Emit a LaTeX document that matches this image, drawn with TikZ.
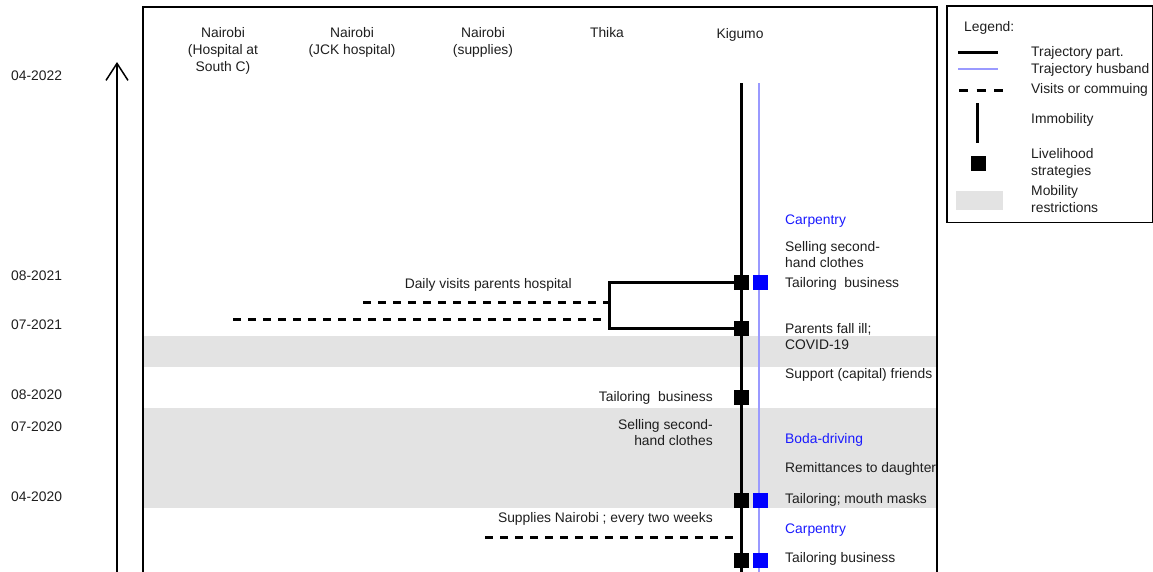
\documentclass[tikz,border=0pt]{standalone}
\usepackage{fontspec}
\setmainfont{Liberation Sans}
\usetikzlibrary{arrows.meta}
\definecolor{ink}{HTML}{1E1E1E}
\definecolor{bandgrey}{HTML}{E3E3E3}
\definecolor{husband}{HTML}{9A9AFF}
\definecolor{sqblue}{HTML}{0000FF}
\definecolor{txtblue}{HTML}{1A1AFF}

\begin{document}
\begin{tikzpicture}[x=1pt,y=-1pt,
  txt/.style={font=\fontsize{13.85}{16}\selectfont, text=ink, inner sep=0pt},
  lbase/.style={txt, anchor=base west},
  rbase/.style={txt, anchor=base east},
  bluetxt/.style={lbase, text=txtblue},
  multil/.style={txt, anchor=north west, align=left},
  multir/.style={txt, anchor=north east, align=right},
  legmulti/.style={multil, font=\fontsize{13.85}{17}\selectfont},
  head/.style={txt, anchor=north, align=center, font=\fontsize{13.85}{17}\selectfont},
  traj/.style={line width=3pt, black},
  husb/.style={line width=1.2pt, husband},
  visit/.style={line width=3pt, black, dash pattern=on 8pt off 7pt},
  strat/.style={fill=black, draw=none, minimum size=15pt, inner sep=0pt},
  bstrat/.style={strat, fill=sqblue},
  band/.style={fill=bandgrey, draw=none},
]
\useasboundingbox (0,0) rectangle (1153,571);
\clip (0,0) rectangle (1153,571);

% periods with mobility restrictions
\fill[band] (143,336) rectangle (937,367);
\fill[band] (143,408) rectangle (937,508);

% time axis
\coordinate (axbot) at (117,600);
\coordinate (axtop) at (117,62);
\draw[line width=1.5pt, -{Straight Barb[length=17pt,width=22pt,line width=1.5pt]}] (axbot) -- (axtop);

% dates
\node[lbase] (d1) at (11,80)  {04-2022};
\node[lbase] (d2) at (11,280) {08-2021};
\node[lbase] (d3) at (11,329) {07-2021};
\node[lbase] (d4) at (11,399) {08-2020};
\node[lbase] (d5) at (11,431) {07-2020};
\node[lbase] (d6) at (11,501) {04-2020};

% places
\node[head] (p1) at (223,27) {Nairobi\\(Hospital at\\South C)};
\node[head] (p2) at (352,27) {Nairobi\\(JCK hospital)};
\node[head] (p3) at (483,27) {Nairobi\\(supplies)};
\node[head] (p4) at (607,27) {Thika};
\node[head] (p5) at (740,28) {Kigumo};

% trajectories
\coordinate (ktop) at (741,83);
\coordinate (kbot) at (741,600);
\coordinate (htop) at (759,83);
\coordinate (hbot) at (759,600);
\draw[husb] (htop) -- (hbot);
\draw[traj] (ktop) -- (kbot);

% hospital visits
\coordinate (bkt1) at (609,282);
\coordinate (bkt2) at (609,328);
\coordinate (jck) at (363,302);
\coordinate (jckj) at (609,302);
\coordinate (southc) at (233,319);
\coordinate (southcj) at (609,319);
\draw[visit] (jck) -- (jckj);
\draw[visit] (southc) -- (southcj);

% supplies from Nairobi
\coordinate (sup) at (485,537);
\coordinate (supj) at (741,537);
\draw[visit] (sup) -- (supj);

% livelihood strategies
\node[strat] (s0821) at (741,282) {};
\node[strat] (s0721) at (741,328) {};
\node[strat] (s0820) at (741,397) {};
\node[strat] (s0420) at (741,500) {};
\node[strat] (s0120) at (741,560) {};
\node[bstrat] (h0821) at (760,282) {};
\node[bstrat] (h0420) at (760,500) {};
\node[bstrat] (h0120) at (760,560) {};
\draw[traj, line join=miter] (s0821.center) -- (bkt1) -- (bkt2) -- (s0721.center);

% labels right of the trajectories
\node[bluetxt] (r1) at (785,224) {Carpentry};
\node[multil] (r2) at (785,241) {Selling second-\\hand clothes};
\node[lbase] (r3) at (785,287) {Tailoring\ \ business};
\node[multil] (r4) at (785,323) {Parents fall ill;\\COVID-19};
\node[lbase] (r5) at (785,378) {Support (capital) friends};
\node[bluetxt] (r6) at (785,443) {Boda-driving};
\begin{scope}
  \clip (143,0) rectangle (936,571);
  \node[lbase] (r7) at (785,472) {Remittances to daughter};
\end{scope}
\node[lbase] (r8) at (785,503) {Tailoring; mouth masks};
\node[bluetxt] (r9) at (785,533) {Carpentry};
\node[lbase] (r10) at (785,562) {Tailoring business};

% labels left of the trajectory
\node[rbase] (l1) at (572,288) {Daily visits parents hospital};
\node[rbase] (l2) at (713,401) {Tailoring\ \ business};
\node[multir] (l3) at (713,419) {Selling second-\\hand clothes};
\node[rbase] (l4) at (713,522) {Supplies Nairobi ; every two weeks};

% frame
\coordinate (fbl) at (143,600);
\coordinate (fbr) at (937,600);
\draw[line width=2pt, line join=miter] (fbl) -- (143,7) -- (937,7) -- (fbr);

% legend
\coordinate (lg1) at (947,6);
\coordinate (lg2) at (1152.5,222.5);
\draw[line width=1.3pt] (lg1) rectangle (lg2);
\node[lbase] (lgt) at (964,31) {Legend:};
\coordinate (la1) at (958,52);  \coordinate (la2) at (998,52);
\draw[traj] (la1) -- (la2);
\node[lbase] (lat) at (1031,56) {Trajectory part.};
\coordinate (lb1) at (958,69);  \coordinate (lb2) at (998,69);
\draw[husb] (lb1) -- (lb2);
\node[lbase] (lbt) at (1031,73) {Trajectory husband};
\coordinate (lc1) at (959,90);  \coordinate (lc2) at (1003,90);
\draw[visit, dash pattern=on 9pt off 8.5pt] (lc1) -- (lc2);
\node[lbase] (lct) at (1031,93) {Visits or commuing};
\coordinate (ld1) at (977,103); \coordinate (ld2) at (977,143);
\draw[traj] (ld1) -- (ld2);
\node[lbase] (ldt) at (1031,123) {Immobility};
\node[strat] (le) at (978.5,163.5) {};
\node[legmulti] (let) at (1031,148) {Livelihood\\strategies};
\fill[band] (956,191) rectangle (1003,210);
\node[legmulti] (lft) at (1031,185) {Mobility\\restrictions};
\end{tikzpicture}
\end{document}
